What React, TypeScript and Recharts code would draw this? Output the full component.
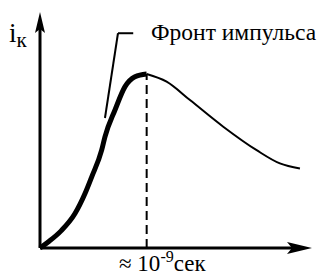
import { ComposedChart, Line, XAxis, YAxis, ReferenceLine, ReferenceDot } from "recharts";

// time in units of ~1e-9 s, current normalised to the peak
const riseT = [0, 0.08, 0.2, 0.328, 0.422, 0.485, 0.578, 0.609, 0.703, 0.797, 0.89, 1];
const riseI = [0, 0.036, 0.1, 0.198, 0.313, 0.409, 0.562, 0.639, 0.793, 0.927, 0.984, 1];
const fallT = [1, 1.187, 1.406, 1.718, 2.031, 2.249, 2.437];
const fallI = [1, 0.956, 0.85, 0.697, 0.562, 0.486, 0.457];

const rise = riseT.map((t, k) => ({ t, i: riseI[k] }));
const fall = fallT.map((t, k) => ({ t, i: fallI[k] }));

const X_MAX = 2.55;
const Y_MAX = 1.356;
const SERIF = "Liberation Serif, Times New Roman, Tinos, DejaVu Serif, serif";

const ArrowUp = ({ cx, cy }: any) => (
  <polygon points={`${cx},${cy} ${cx - 5},${cy + 21} ${cx},${cy + 17} ${cx + 5},${cy + 21}`} fill="#000" />
);
const ArrowRight = ({ cx, cy }: any) => (
  <polygon points={`${cx},${cy} ${cx - 25},${cy - 6} ${cx - 20},${cy} ${cx - 25},${cy + 6}`} fill="#000" />
);

export default function App() {
  return (
    <div style={{ width: 321, height: 277, background: "#fff", fontFamily: SERIF }}>
      <style>{`body{margin:0}`}</style>
      <ComposedChart width={321} height={277} margin={{ top: 12, right: 9, bottom: 29, left: 40 }} style={{ fontFamily: SERIF }}>
        <XAxis type="number" dataKey="t" domain={[0, X_MAX]} hide />
        <YAxis type="number" dataKey="i" domain={[0, Y_MAX]} hide />

        {/* axes */}
        <ReferenceLine segment={[{ x: 0, y: 0 }, { x: 0, y: Y_MAX - 0.05 }]} stroke="#000" strokeWidth={3} />
        <ReferenceLine segment={[{ x: 0, y: 0 }, { x: X_MAX - 0.1, y: 0 }]} stroke="#000" strokeWidth={3} />
        <ReferenceDot x={0} y={Y_MAX} r={0} shape={ArrowUp} />
        <ReferenceDot x={X_MAX} y={0} r={0} shape={ArrowRight} />

        {/* peak marker */}
        <ReferenceLine segment={[{ x: 1, y: 0 }, { x: 1, y: 1 }]} stroke="#000" strokeWidth={2} strokeDasharray="9 5" />

        {/* leader to the label */}
        <ReferenceLine segment={[{ x: 0.609, y: 0.747 }, { x: 0.731, y: 1.234 }]} stroke="#000" strokeWidth={2} />
        <ReferenceLine segment={[{ x: 0.731, y: 1.234 }, { x: 0.874, y: 1.234 }]} stroke="#000" strokeWidth={2} />

        <Line data={fall} dataKey="i" type="monotone" stroke="#000" strokeWidth={2} dot={false} isAnimationActive={false} />
        <Line data={rise} dataKey="i" type="monotone" stroke="#000" strokeWidth={5} dot={false} isAnimationActive={false} />

        <text x={151} y={40} fontFamily={SERIF} fontSize={23.5} fill="#000">Фронт импульса</text>
        <text x={9} y={42} fontFamily={SERIF} fontSize={27} fill="#000">
          i<tspan fontSize={21} dy={5}>к</tspan>
        </text>
        <text x={119} y={271} fontFamily={SERIF} fontSize={23} fill="#000">
          ≈ 10<tspan fontSize={16} dy={-9}>-9</tspan><tspan dy={9}>сек</tspan>
        </text>
      </ComposedChart>
    </div>
  );
}
